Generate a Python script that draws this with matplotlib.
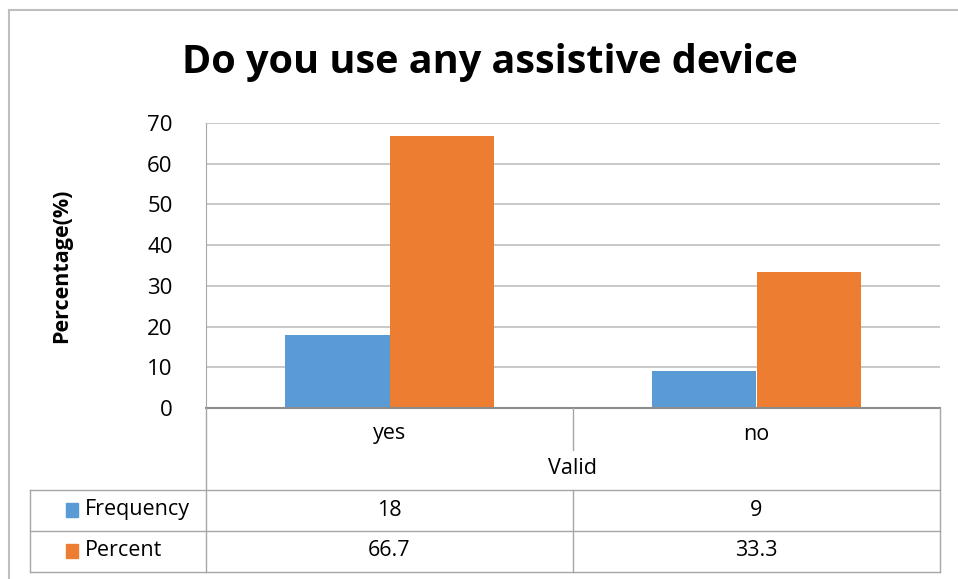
import matplotlib.pyplot as plt
from matplotlib.lines import Line2D
from matplotlib.patches import Rectangle

# ---------- data ----------
categories = ['yes', 'no']
group_label = 'Valid'
series_names = ['Frequency', 'Percent']
frequency = [18, 9]
percent = [66.7, 33.3]
table_text = [['18', '9'], ['66.7', '33.3']]
colors = ['#5B9BD5', '#ED7D31']

W, H = 958, 579
plt.rcParams['font.family'] = ['Open Sans', 'DejaVu Sans']

fig = plt.figure(figsize=(W / 100, H / 100), dpi=100)


def fx(px):
  return px / W


def fy(py):
  return 1 - py / H


def hline(x0, x1, y, color='#A6A6A6', lw=1.0):
  fig.add_artist(Line2D([fx(x0), fx(x1)], [fy(y), fy(y)], color=color, lw=lw))


def vline(x, y0, y1, color='#A6A6A6', lw=1.0):
  fig.add_artist(Line2D([fx(x), fx(x)], [fy(y0), fy(y1)], color=color, lw=lw))


# plot area in pixels
left, right, top, bottom = 206, 940, 123, 408
ax = fig.add_axes([fx(left), fy(bottom), fx(right - left), (bottom - top) / H])

n = len(categories)
width = 1 / 3.5
xs = list(range(n))
ax.bar([x - width / 2 for x in xs], frequency, width=width, color=colors[0], zorder=3)
ax.bar([x + width / 2 for x in xs], percent, width=width, color=colors[1], zorder=3)

ax.set_xlim(-0.5, n - 0.5)
ax.set_ylim(0, 70)
ax.set_yticks(range(0, 71, 10))
ax.tick_params(axis='y', length=0, labelsize=16, pad=24)
ax.set_xticks([])
ax.grid(axis='y', color='#BFBFBF', lw=1.2, zorder=0)
for s in ['top', 'right', 'bottom']:
  ax.spines[s].set_visible(False)
ax.spines['left'].set_color('#A6A6A6')
ax.set_ylabel('Percentage(%)', fontsize=15.5, fontweight='bold')
ax.yaxis.set_label_coords(-0.183, 0.5)

# title
fig.text(fx(490), fy(62), 'Do you use any assistive device', ha='center', va='center',
         fontsize=28.5, fontweight='bold')

# outer chart border
hline(9, W, 10, color='#BFBFBF', lw=1.5)
vline(9, 10, H, color='#BFBFBF', lw=1.5)

# data table under the axis
col_w = (right - left) / n
hline(left, right, bottom, color='#8C8C8C', lw=1.5)
vline(left, bottom, 572)
vline(right, bottom, 572)
for i in range(1, n):
  vline(left + col_w * i, bottom, 450)
for i in range(1, n):
  vline(left + col_w * i, 490, 572)
hline(30, right, 490)
hline(30, right, 531)
hline(30, right, 572)
vline(30, 490, 572)

fs = 15.5
for i, cat in enumerate(categories):
  fig.text(fx(left + col_w * (i + 0.5)), fy(434), cat, ha='center', va='center', fontsize=fs)
fig.text(fx((left + right) / 2), fy(468), group_label, ha='center', va='center', fontsize=fs)

row_y = [510, 551]
for r, name in enumerate(series_names):
  fig.add_artist(Rectangle((fx(66), fy(row_y[r] + 7)), fx(12), 14 / H, color=colors[r]))
  fig.text(fx(85), fy(row_y[r]), name, ha='left', va='center', fontsize=fs)
  for i in range(n):
    fig.text(fx(left + col_w * (i + 0.5)), fy(row_y[r]), table_text[r][i],
             ha='center', va='center', fontsize=fs)

fig.savefig('out.png', dpi=100)
